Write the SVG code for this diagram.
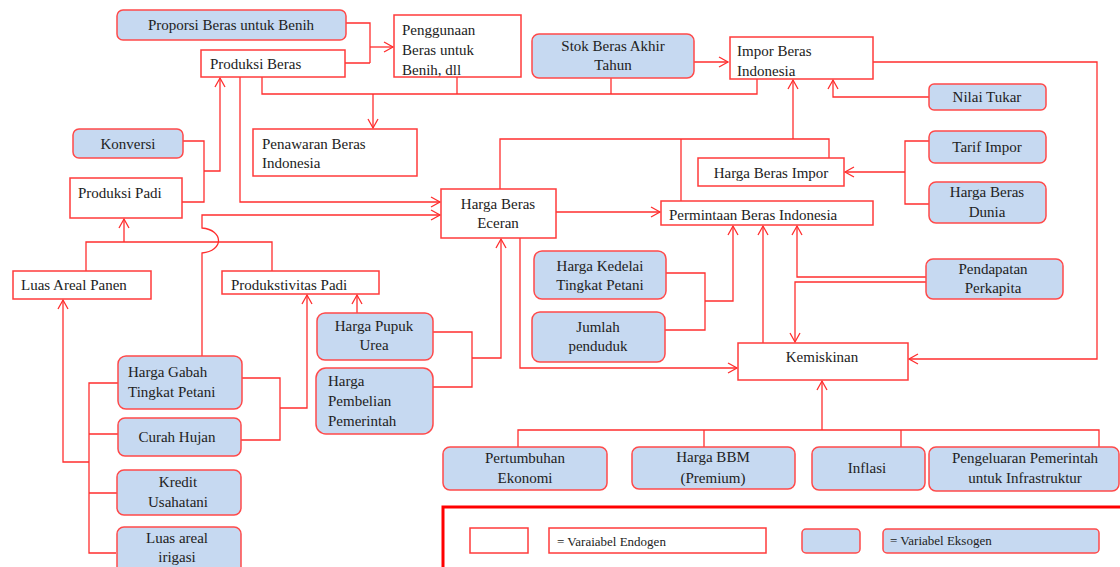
<svg xmlns="http://www.w3.org/2000/svg" width="1120" height="567" viewBox="0 0 1120 567">
<defs>
<style>
.endo{fill:#ffffff;stroke:#ff3b3b;stroke-width:1.5}
.exo{fill:#c6d9f1;stroke:#ff4a4a;stroke-width:1.5}
.t{font-family:"Liberation Serif","Times New Roman",serif;font-size:15px;fill:#222}
.c{text-anchor:middle}
.lg{font-family:"Liberation Serif","Times New Roman",serif;font-size:13px;fill:#222}
#connectors path{fill:none;stroke:#ff2e2e;stroke-width:1.3}
#connectors path.a{marker-end:url(#arr)}
</style>
<marker id="arr" markerWidth="12" markerHeight="12" refX="10" refY="6" orient="auto" markerUnits="userSpaceOnUse">
<path d="M1,1 L10,6 L1,11" fill="none" stroke="#ff2e2e" stroke-width="1.3"/>
</marker>
</defs>
<rect width="1120" height="567" fill="#ffffff"/>

<g id="connectors">
<path d="M346,23 H370 V63 M345,63 H370"/>
<path class="a" d="M370,47 H393"/>
<path d="M262,77 V94 H757 V79 M457,77 V94 M611,78 V94"/>
<path class="a" d="M373,94 V128"/>
<path class="a" d="M694,62 H728"/>
<path class="a" d="M240,77 V202 H440"/>
<path d="M183,141 H204 V202 H182"/>
<path class="a" d="M204,171 H220 V78"/>
<path class="a" d="M202,356 V253 C224,251 224,230 202,228 V215 H440"/>
<path d="M86,271 V242 H272 V271"/>
<path class="a" d="M124,242 V219"/>
<path d="M118,383 H89 V553 H116 M89,434 H118 M89,493 H117"/>
<path class="a" d="M89,462 H63 V300"/>
<path d="M242,378 H280 V440 H241"/>
<path class="a" d="M280,408 H307 V295"/>
<path class="a" d="M357,313 V295"/>
<path d="M433,332 H472 V387 H433"/>
<path class="a" d="M472,358 H501 V239"/>
<path class="a" d="M556,212 H660"/>
<path class="a" d="M520,238 V368 H737"/>
<path d="M500,189 V139 H829 V158 M681,201 V139"/>
<path class="a" d="M793,139 V80"/>
<path class="a" d="M929,97 H833 V80"/>
<path d="M929,141 H905 V204 H929"/>
<path class="a" d="M905,172 H845"/>
<path class="a" d="M873,62 H1097 V359 H909"/>
<path d="M666,273 H705 V330 H665"/>
<path class="a" d="M705,301 H733 V226"/>
<path class="a" d="M763,343 V226"/>
<path class="a" d="M926,277 H797 V226"/>
<path class="a" d="M926,282 H795 V342"/>
<path d="M518,447 V430 H1099 V447 M704,447 V430 M901,448 V430"/>
<path class="a" d="M822,430 V381"/>
</g>

<g id="proporsi"><rect class="exo" x="117" y="10" width="229" height="30" rx="6"/><text class="t c" x="231" y="30">Proporsi Beras untuk Benih</text></g>
<g id="produksi-beras"><rect class="endo" x="201" y="50" width="144" height="27"/><text class="t" x="210" y="69">Produksi Beras</text></g>
<g id="penggunaan"><rect class="endo" x="394" y="15" width="127" height="62"/><text class="t" x="402" y="35">Penggunaan</text><text class="t" x="402" y="55">Beras  untuk</text><text class="t" x="402" y="75">Benih,  dll</text></g>
<g id="stok"><rect class="exo" x="532" y="34" width="162" height="44" rx="7"/><text class="t c" x="613" y="51">Stok Beras  Akhir</text><text class="t c" x="613" y="70">Tahun</text></g>
<g id="impor"><rect class="endo" x="730" y="37" width="143" height="42"/><text class="t" x="737" y="56">Impor Beras</text><text class="t" x="737" y="76">Indonesia</text></g>
<g id="nilai-tukar"><rect class="exo" x="929" y="84" width="117" height="26" rx="5"/><text class="t c" x="987" y="102">Nilai  Tukar</text></g>
<g id="tarif"><rect class="exo" x="929" y="131" width="117" height="32" rx="6"/><text class="t c" x="987" y="152">Tarif Impor</text></g>
<g id="harga-dunia"><rect class="exo" x="929" y="182" width="117" height="41" rx="7"/><text class="t c" x="987" y="197">Harga Beras</text><text class="t c" x="987" y="217">Dunia</text></g>
<g id="harga-impor"><rect class="endo" x="698" y="158" width="146" height="28"/><text class="t c" x="771" y="178">Harga Beras  Impor</text></g>
<g id="permintaan"><rect class="endo" x="661" y="201" width="212" height="24"/><text class="t" x="669" y="220">Permintaan  Beras  Indonesia</text></g>
<g id="eceran"><rect class="endo" x="441" y="189" width="115" height="49"/><text class="t c" x="498" y="209">Harga Beras</text><text class="t c" x="498" y="228">Eceran</text></g>
<g id="penawaran"><rect class="endo" x="253" y="129" width="164" height="47"/><text class="t" x="262" y="149">Penawaran Beras</text><text class="t" x="262" y="168">Indonesia</text></g>
<g id="konversi"><rect class="exo" x="73" y="129" width="110" height="29" rx="6"/><text class="t c" x="128" y="149">Konversi</text></g>
<g id="produksi-padi"><rect class="endo" x="70" y="178" width="112" height="40"/><text class="t" x="78" y="198">Produksi Padi</text></g>
<g id="luas-panen"><rect class="endo" x="13" y="271" width="138" height="28"/><text class="t" x="21" y="290">Luas  Areal  Panen</text></g>
<g id="produktivitas"><rect class="endo" x="222" y="271" width="157" height="23"/><text class="t" x="231" y="290">Produkstivitas Padi</text></g>
<g id="pupuk"><rect class="exo" x="317" y="313" width="116" height="47" rx="8"/><text class="t c" x="374" y="331">Harga  Pupuk</text><text class="t c" x="374" y="350">Urea</text></g>
<g id="pembelian"><rect class="exo" x="316" y="368" width="117" height="66" rx="10"/><text class="t" x="328" y="386">Harga</text><text class="t" x="328" y="406">Pembelian</text><text class="t" x="328" y="426">Pemerintah</text></g>
<g id="gabah"><rect class="exo" x="118" y="356" width="124" height="53" rx="8"/><text class="t" x="128" y="377">Harga  Gabah</text><text class="t" x="128" y="397">Tingkat  Petani</text></g>
<g id="curah"><rect class="exo" x="118" y="418" width="123" height="38" rx="7"/><text class="t c" x="177" y="442">Curah  Hujan</text></g>
<g id="kredit"><rect class="exo" x="117" y="470" width="124" height="45" rx="7"/><text class="t c" x="178" y="487">Kredit</text><text class="t c" x="178" y="507">Usahatani</text></g>
<g id="irigasi"><rect class="exo" x="117" y="527" width="124" height="50" rx="7"/><text class="t c" x="177" y="543">Luas  areal</text><text class="t c" x="177" y="562">irigasi</text></g>
<g id="kedelai"><rect class="exo" x="534" y="251" width="132" height="48" rx="8"/><text class="t c" x="600" y="271">Harga  Kedelai</text><text class="t c" x="600" y="290">Tingkat  Petani</text></g>
<g id="jumlah"><rect class="exo" x="532" y="312" width="133" height="50" rx="8"/><text class="t c" x="598" y="332">Jumlah</text><text class="t c" x="598" y="351">penduduk</text></g>
<g id="kemiskinan"><rect class="endo" x="738" y="343" width="170" height="37"/><text class="t c" x="822" y="362">Kemiskinan</text></g>
<g id="pendapatan"><rect class="exo" x="926" y="259" width="137" height="40" rx="7"/><text class="t c" x="993" y="274">Pendapatan</text><text class="t c" x="993" y="293">Perkapita</text></g>
<g id="pertumbuhan"><rect class="exo" x="443" y="447" width="164" height="43" rx="7"/><text class="t c" x="525" y="463">Pertumbuhan</text><text class="t c" x="525" y="483">Ekonomi</text></g>
<g id="bbm"><rect class="exo" x="632" y="447" width="163" height="42" rx="7"/><text class="t c" x="713" y="462">Harga BBM</text><text class="t c" x="713" y="483">(Premium)</text></g>
<g id="inflasi"><rect class="exo" x="812" y="447" width="113" height="43" rx="7"/><text class="t c" x="867" y="473">Inflasi</text></g>
<g id="pengeluaran"><rect class="exo" x="929" y="447" width="190" height="44" rx="7"/><text class="t c" x="1025" y="463">Pengeluaran  Pemerintah</text><text class="t c" x="1025" y="483">untuk Infrastruktur</text></g>

<g id="legend">
<rect x="443" y="507" width="700" height="100" fill="none" stroke="#ff0000" stroke-width="3"/>
<rect class="endo" x="470" y="528" width="58" height="25"/>
<rect class="endo" x="549" y="528" width="217" height="25"/>
<text class="lg" x="557" y="546">= Varaiabel Endogen</text>
<rect class="exo" x="802" y="529" width="58" height="24" rx="4"/>
<rect class="exo" x="883" y="529" width="216" height="24" rx="4"/>
<text class="lg" x="890" y="545">= Variabel Eksogen</text>
</g>
</svg>
